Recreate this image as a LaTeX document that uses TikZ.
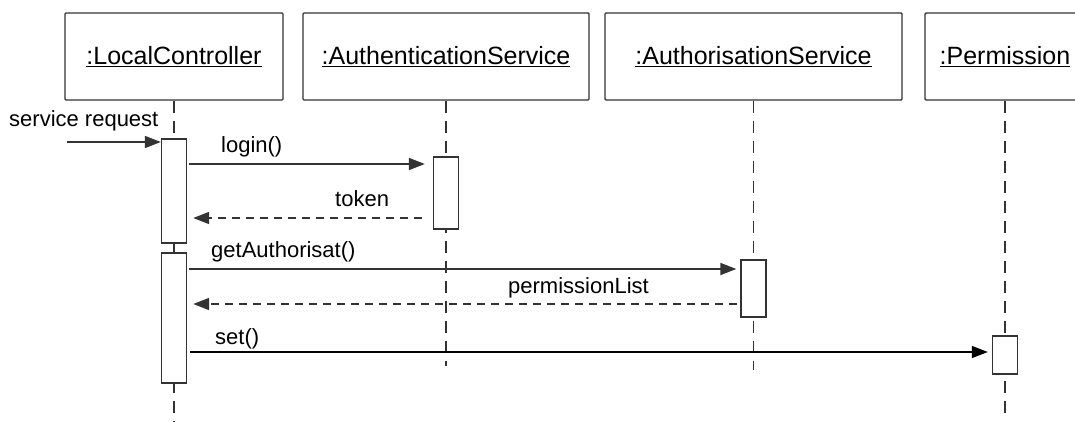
\documentclass[tikz,border=0pt]{standalone}
\usepackage{fontspec}
\setmainfont{Liberation Sans}
\usetikzlibrary{arrows.meta}
\definecolor{ln}{HTML}{333333}
\begin{document}
\begin{tikzpicture}[x=1pt,y=-1pt,
  obj/.style={draw=ln,line width=1.4pt,rounded corners=1pt,minimum height=87pt,inner sep=0pt,font=\fontsize{25}{30}\selectfont},
  bar/.style={draw=ln,fill=white,line width=1.4pt,minimum width=25pt,inner sep=0pt},
  life/.style={draw=ln,line width=1.5pt,dash pattern=on 12pt off 8pt},
  msg/.style={draw=ln,line width=1.7pt,-{Triangle[length=16pt,width=12pt]}},
  ret/.style={msg,dash pattern=on 8pt off 6pt},
  lbl/.style={anchor=base west,inner sep=0pt,font=\fontsize{22}{26}\selectfont}]
\useasboundingbox (0,0) rectangle (1075,422);
\clip (0,0) rectangle (1075,422);
\fill[white] (0,0) rectangle (1075,422);
% objects
\node[obj,minimum width=218pt] (lc) at (174,56.5) {\underline{:LocalController}};
\node[obj,minimum width=286pt] (an) at (446,56.5) {\underline{:AuthenticationService}};
\node[obj,minimum width=297pt] (az) at (753.5,56.5) {\underline{:AuthorisationService}};
\node[obj,minimum width=160pt] (pm) at (1005,56.5) {\underline{:Permission}};
% lifeline ends
\coordinate (lcE) at (174,424);
\coordinate (anE) at (446,366);
\coordinate (azE) at (753.5,370);
\coordinate (pmE) at (1005,416);
\draw[life] (lc.south) -- (lcE);
\draw[life] (an.south) -- (anE);
\draw[life] (az.south) -- (azE);
\draw[life] (pm.south) -- (pmE);
% activation bars
\node[bar,minimum height=104pt] (lc1) at (174,191) {};
\node[bar,minimum height=130pt] (lc2) at (174,318) {};
\node[bar,minimum height=72pt] (an1) at (446,193) {};
\node[bar,minimum height=57pt] (az1) at (753.5,288.5) {};
\node[bar,minimum height=38pt] (pm1) at (1005,355) {};
% messages
\coordinate (sr) at (67,142);
\draw[msg] (sr) -- (sr -| lc1.west);
\node[lbl] (srl) at (9,127) {service request};
\coordinate (m1) at (189,164);
\draw[msg,shorten >=8pt] (m1) -- (m1 -| an1.west);
\node[lbl] (m1l) at (221,153) {login()};
\coordinate (m2) at (422,218);
\draw[ret,shorten >=6pt] (m2) -- (m2 -| lc1.east);
\node[lbl] (m2l) at (335,206) {token};
\coordinate (m3) at (189,269);
\draw[msg,shorten >=4pt] (m3) -- (m3 -| az1.west);
\node[lbl] (m3l) at (211,257) {getAuthorisat()};
\coordinate (m4) at (737,304);
\draw[ret,shorten >=6pt] (m4) -- (m4 -| lc2.east);
\node[lbl] (m4l) at (508,293) {permissionList};
\coordinate (m5) at (190,352);
\draw[msg,line width=1.3pt,draw=black,shorten >=4pt] (m5) -- (m5 -| pm1.west);
\node[lbl] (m5l) at (215,344) {set()};
\end{tikzpicture}
\end{document}
